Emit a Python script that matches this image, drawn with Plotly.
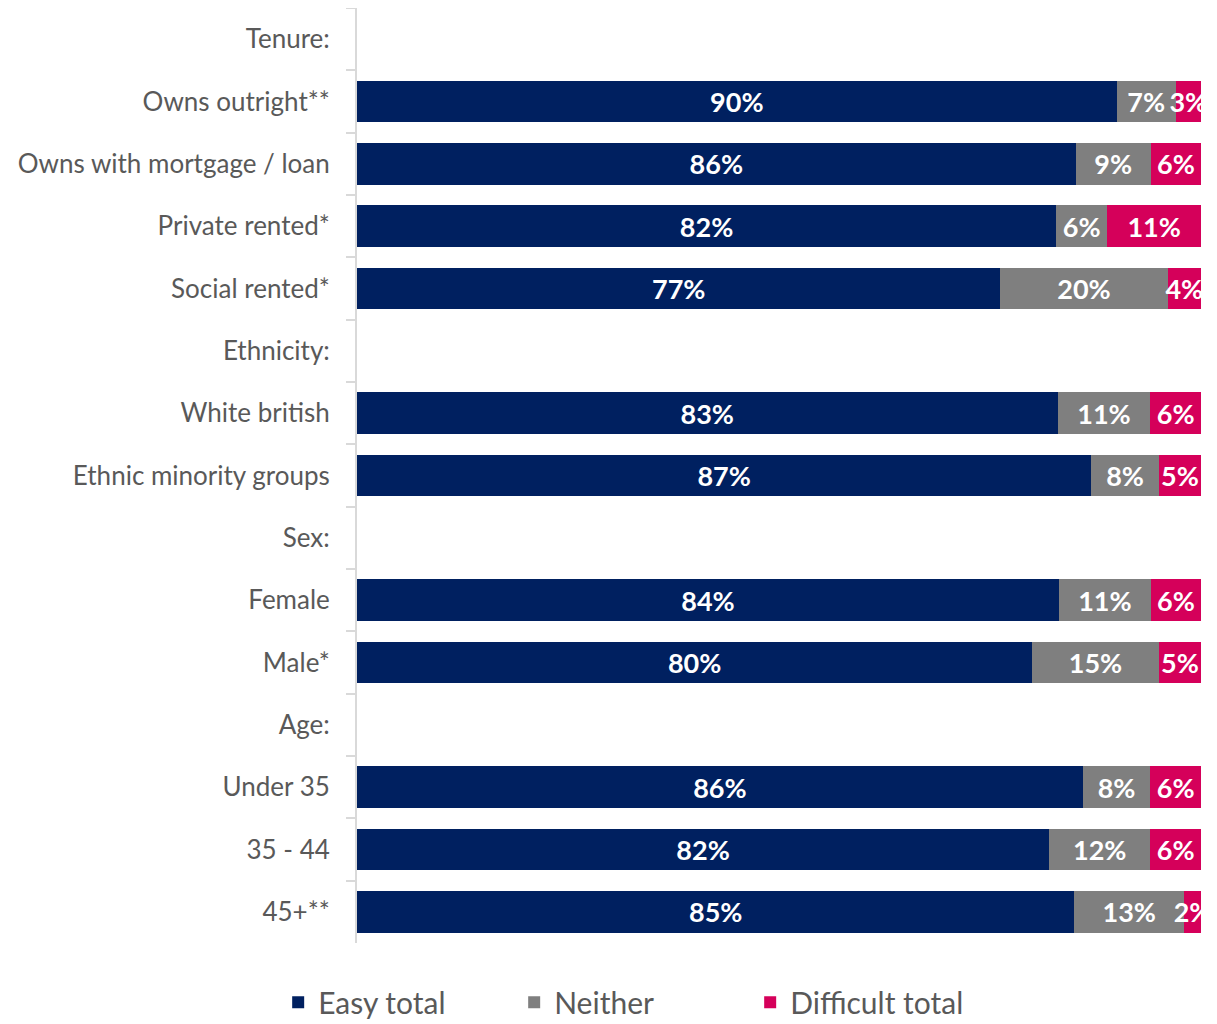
import plotly.graph_objects as go

categories = ["Tenure:", "Owns outright**", "Owns with mortgage / loan", "Private rented*",
              "Social rented*", "Ethnicity:", "White british", "Ethnic minority groups",
              "Sex:", "Female", "Male*", "Age:", "Under 35", "35 - 44", "45+**"]
easy = [None, 90, 86, 82, 77, None, 83, 87, None, 84, 80, None, 86, 82, 85]
neither = [None, 7, 9, 6, 20, None, 11, 8, None, 11, 15, None, 8, 12, 13]
difficult = [None, 3, 6, 11, 4, None, 6, 5, None, 6, 5, None, 6, 6, 2]

series = [("Easy total", easy, "#002060"),
          ("Neither", neither, "#7F7F7F"),
          ("Difficult total", difficult, "#D5005A")]

FONT = "Lato"
fig = go.Figure()
for name, vals, color in series:
    fig.add_trace(go.Bar(
        y=categories, x=vals, name=name, orientation="h",
        marker=dict(color=color, line=dict(width=0)),
        text=[f"{v}%" if v is not None else "" for v in vals],
        textposition="inside", insidetextanchor="middle", textangle=0,
        constraintext="none", cliponaxis=True,
        textfont=dict(family=FONT, size=27, color="white", weight="bold"),
        hoverinfo="skip",
    ))

fig.update_layout(
    barmode="stack", barnorm="percent", bargap=0.33,
    width=1217, height=1024,
    margin=dict(l=349, r=24, t=0, b=89, autoexpand=False),
    paper_bgcolor="white", plot_bgcolor="white",
    font=dict(family=FONT, color="#595959"),
    showlegend=True,
    legend=dict(orientation="h", xref="container", yref="container",
                x=0.222, xanchor="left", y=0.029, yanchor="middle",
                font=dict(size=30, color="#595959", family=FONT),
                itemwidth=30, entrywidth=191, traceorder="normal"),
)
fig.update_xaxes(range=[0, 100], visible=False, fixedrange=True)
fig.update_yaxes(autorange="reversed", type="category", categoryorder="array",
                 categoryarray=categories, automargin=False,
                 showline=True, linecolor="#D9D9D9", linewidth=2,
                 ticks="outside", tickson="boundaries", ticklen=9, tickcolor="#D9D9D9",
                 tickwidth=2, ticklabelstandoff=20,
                 tickfont=dict(size=26, color="#595959", family=FONT),
                 showgrid=False, zeroline=False)

fig.write_html("out.html")
